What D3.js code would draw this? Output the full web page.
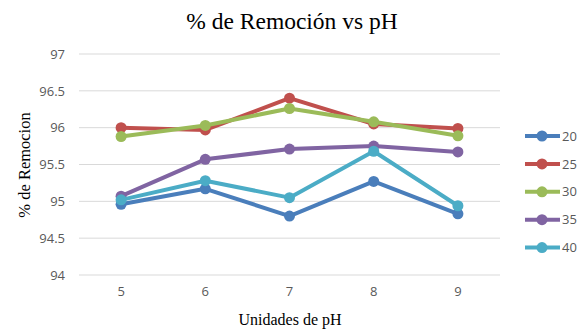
<!DOCTYPE html>
<html>
<head>
<meta charset="utf-8">
<script src="https://cdn.jsdelivr.net/npm/d3@7/dist/d3.min.js"></script>
<style>
  html, body { margin: 0; padding: 0; background: #fff; }
  svg { display: block; }
</style>
</head>
<body>
<svg id="chart" width="585" height="336"></svg>
<script>
// pH categories on the x axis
const phValues = ["5", "6", "7", "8", "9"];
// series names (legend labels)
const seriesNames = ["20", "25", "30", "35", "40"];
// removal percentage for each series, one value per pH
const serie20 = [94.96, 95.17, 94.80, 95.27, 94.83];
const serie25 = [96.00, 95.97, 96.40, 96.05, 95.99];
const serie30 = [95.88, 96.03, 96.26, 96.08, 95.89];
const serie35 = [95.07, 95.57, 95.71, 95.75, 95.67];
const serie40 = [95.02, 95.28, 95.05, 95.68, 94.94];
const yTicks = [94, 94.5, 95, 95.5, 96, 96.5, 97];
const colors = ["#4a7ebb", "#c0504d", "#9bbb59", "#8064a2", "#4bacc6"];

const allSeries = [serie20, serie25, serie30, serie35, serie40];

const svg = d3.select("#chart");
const plot = { left: 79, right: 500, top: 54, bottom: 275 };

const x = d3.scaleBand().domain(phValues).range([plot.left, plot.right]);
const y = d3.scaleLinear().domain([94, 97]).range([plot.bottom, plot.top]);

// horizontal gridlines
svg.append("g")
  .selectAll("line")
  .data(yTicks)
  .join("line")
  .attr("x1", plot.left).attr("x2", plot.right)
  .attr("y1", d => y(d)).attr("y2", d => y(d))
  .attr("stroke", "#d9d9d9").attr("stroke-width", 1);

// y axis labels
const yAxis = svg.append("g")
  .attr("transform", `translate(${plot.left - 14},0)`)
  .call(d3.axisLeft(y).tickValues(yTicks).tickSize(0).tickFormat(d3.format("")));
yAxis.select(".domain").remove();
yAxis.selectAll("text")
  .attr("x", 0)
  .attr("fill", "#595959")
  .style("font-family", "'Open Sans', 'DejaVu Sans', sans-serif")
  .style("font-size", "13px");

// x axis labels
const xAxis = svg.append("g")
  .attr("transform", `translate(0,${plot.bottom + 12})`)
  .call(d3.axisBottom(x).tickSize(0));
xAxis.select(".domain").remove();
xAxis.selectAll("text")
  .attr("y", 0).attr("dy", "0.71em")
  .attr("fill", "#595959")
  .style("font-family", "'Open Sans', 'DejaVu Sans', sans-serif")
  .style("font-size", "13px");

const cx = d => x(d) + x.bandwidth() / 2;
const line = d3.line().x((d, i) => cx(phValues[i])).y(d => y(d));

// series lines and markers
allSeries.forEach((vals, s) => {
  const g = svg.append("g");
  g.append("path")
    .datum(vals)
    .attr("d", line)
    .attr("fill", "none")
    .attr("stroke", colors[s])
    .attr("stroke-width", 4)
    .attr("stroke-linejoin", "round");
  g.selectAll("circle")
    .data(vals)
    .join("circle")
    .attr("cx", (d, i) => cx(phValues[i]))
    .attr("cy", d => y(d))
    .attr("r", 5.5)
    .attr("fill", colors[s]);
});

// legend
const legend = svg.append("g");
seriesNames.forEach((name, i) => {
  const ly = 136 + i * 27.9;
  legend.append("line")
    .attr("x1", 525).attr("x2", 560)
    .attr("y1", ly).attr("y2", ly)
    .attr("stroke", colors[i]).attr("stroke-width", 4);
  legend.append("circle")
    .attr("cx", 542).attr("cy", ly).attr("r", 5.5)
    .attr("fill", colors[i]);
  legend.append("text")
    .attr("x", 562).attr("y", ly).attr("dy", "0.36em")
    .attr("fill", "#595959")
    .style("font-family", "'Open Sans', 'DejaVu Sans', sans-serif")
    .style("font-size", "13px")
    .text(name);
});

// title
svg.append("text")
  .attr("x", 292).attr("y", 29)
  .attr("text-anchor", "middle")
  .attr("fill", "#000")
  .style("font-family", "'Liberation Serif', 'Times New Roman', serif")
  .style("font-size", "23.5px")
  .text("% de Remoción vs pH");

// axis titles
svg.append("text")
  .attr("x", 290).attr("y", 325)
  .attr("text-anchor", "middle")
  .attr("fill", "#000")
  .style("font-family", "'Liberation Serif', 'Times New Roman', serif")
  .style("font-size", "16px")
  .text("Unidades de pH");

svg.append("text")
  .attr("transform", "translate(30,165) rotate(-90)")
  .attr("text-anchor", "middle")
  .attr("fill", "#000")
  .style("font-family", "'Liberation Serif', 'Times New Roman', serif")
  .style("font-size", "16.5px")
  .text("% de Remocion");
</script>
</body>
</html>
